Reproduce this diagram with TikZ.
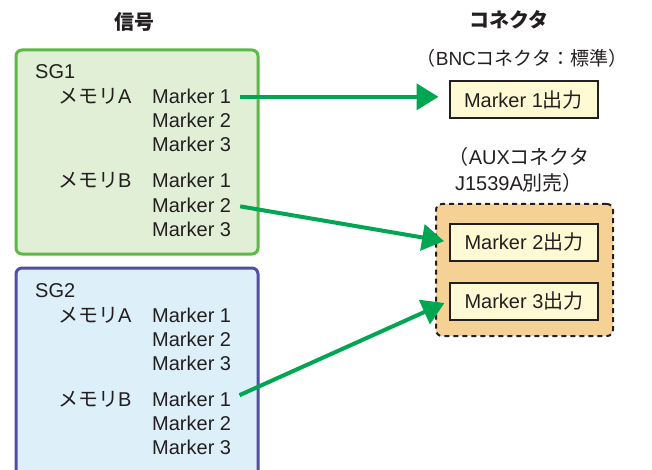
\documentclass[tikz,border=0pt]{standalone}
\usepackage{fontspec}
\setmainfont{Liberation Sans}
\newfontfamily\jpfont{Noto Sans CJK JP}
\newcommand{\jp}[1]{{\jpfont #1}}
\usetikzlibrary{arrows.meta}

\definecolor{sgone}{RGB}{92,185,70}
\definecolor{sgonefill}{RGB}{226,239,215}
\definecolor{sgtwo}{RGB}{80,80,160}
\definecolor{sgtwofill}{RGB}{221,239,249}
\definecolor{auxfill}{RGB}{246,209,150}
\definecolor{outfill}{RGB}{255,250,212}
\definecolor{ink}{RGB}{35,31,32}
\definecolor{wire}{RGB}{0,166,81}

\begin{document}
\begin{tikzpicture}[x=1pt,y=-1pt,
    every node/.style={text=ink,font=\fontsize{20}{24}\selectfont},
    lbl/.style={inner sep=0pt,anchor=base west},
    sgbox/.style={rounded corners=6pt,line width=3pt,inner sep=0pt},
    outbox/.style={draw=ink,fill=outfill,line width=2pt,inner sep=0pt,
                   minimum width=148pt,minimum height=37pt},
    wirearrow/.style={draw=wire,line width=4pt,
                      -{Triangle[length=22pt,width=26pt]},
                      shorten <=9pt,shorten >=5pt}]
    \useasboundingbox (0,0) rectangle (652,470);

    % headers
    \node (sigtitle) at (134,22) {\jp{\bfseries 信号}};
    \node (contitle) at (509,20) {\jp{\bfseries コネクタ}};

    % signal generators
    \node[sgbox,draw=sgone,fill=sgonefill,minimum width=242pt,minimum height=204pt] (sg1) at (137,152) {};
    \node[sgbox,draw=sgtwo,fill=sgtwofill,minimum width=242pt,minimum height=210pt] (sg2) at (137,373) {};
    \node[lbl] (sg1name) at (35,79) {SG1};
    \node[lbl] (sg2name) at (35,297) {SG2};

    \foreach \s/\m/\y in {1/A/97,1/B/181,2/A/315,2/B/399} {
        \node[lbl] (sg\s\m) at (58,\y+7) {\jp{メモリ}\m};
        \foreach \k in {1,2,3}
            \node[lbl] (sg\s\m\k) at (152,{\y+7+24*(\k-1)}) {Marker \k};
    }

    % connectors
    \node[font=\fontsize{19}{24}\selectfont] (bnclabel) at (522,58) {\jp{（}BNC\jp{コネクタ：標準）}};
    \node[align=center,font=\fontsize{20}{26}\selectfont] (auxlabel) at (519,170)
        {\jp{（}AUX\jp{コネクタ}\\J1539A\jp{別売）}};
    \node[outbox] (out1) at (523.5,100) {Marker 1\jp{出力}};
    \node[draw=ink,fill=auxfill,line width=2pt,dash pattern=on 5pt off 4pt,
          rounded corners=6pt,minimum width=177pt,minimum height=132pt] (aux) at (524.5,270) {};
    \node[outbox] (out2) at (524,242) {Marker 2\jp{出力}};
    \node[outbox] (out3) at (524,301) {Marker 3\jp{出力}};

    % wiring
    \path[wirearrow,shorten >=10pt] (sg1A1.east) -- (sg1A1.east -| out1.west);
    \path[wirearrow] (sg1B2.east) -- (out2.west);
    \path[wirearrow] (sg2B1.east) -- (out3.west);
\end{tikzpicture}
\end{document}
